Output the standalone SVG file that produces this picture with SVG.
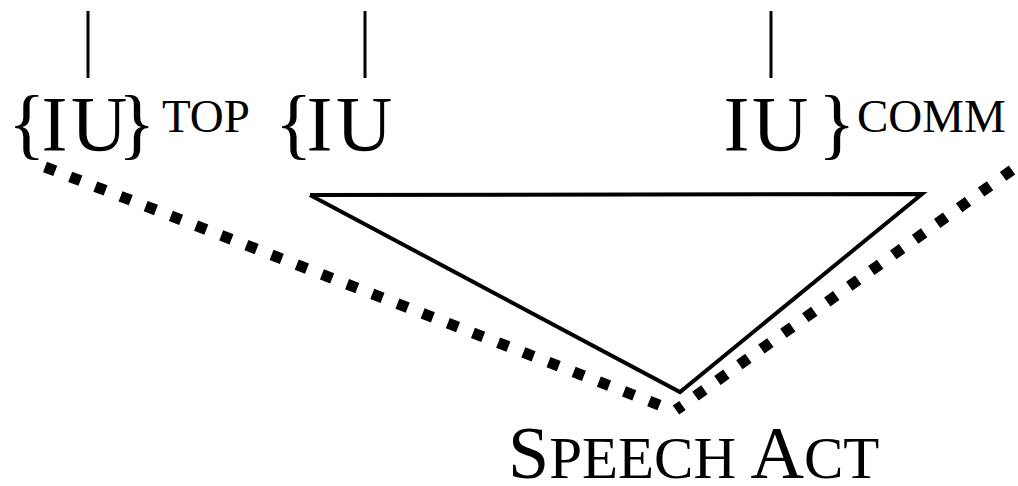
<svg xmlns="http://www.w3.org/2000/svg" width="1018" height="486" viewBox="0 0 1018 486">
<style>
.t{font-family:"Liberation Serif","Times New Roman",serif;fill:#000}
.big{font-size:78px}
.sup{font-size:47px}
.tick{stroke:#000;stroke-width:3;fill:none}
.tri{stroke:#000;stroke-width:4;fill:none;stroke-linejoin:miter}
.dot{stroke:#000;stroke-width:11;fill:none;stroke-dasharray:11 16}
</style>
<rect width="1018" height="486" fill="#fff"/>
<g id="connectors">
<line class="tick" x1="88" y1="11" x2="88" y2="78"/>
<line class="tick" x1="365" y1="11" x2="365" y2="78"/>
<line class="tick" x1="771" y1="11" x2="771" y2="78"/>
<polyline class="tri" points="310,195 922,194 680,392 310,195"/>
<line class="dot" x1="45" y1="167" x2="672" y2="410"/>
<line class="dot" x1="1012" y1="170" x2="676" y2="410"/>
</g>
<g id="iu-top">
<text class="t big" x="8 41.6 71 118" y="150">{IU}</text>
<text class="t sup" x="162" y="132">TOP</text>
</g>
<g id="iu-comm-start">
<text class="t big" x="275 306.6 336" y="150">{IU</text>
</g>
<g id="iu-comm-end">
<text class="t big" x="723.6 752" y="150">IU</text>
<text class="t big" x="818" y="150">}</text>
<text class="t sup" x="857" y="132">COMM</text>
</g>
<g id="speech-act">
<text class="t" x="508" y="478" font-size="74"><tspan>S</tspan><tspan font-size="59">PEECH</tspan> <tspan>A</tspan><tspan font-size="59">CT</tspan></text>
</g>
</svg>
